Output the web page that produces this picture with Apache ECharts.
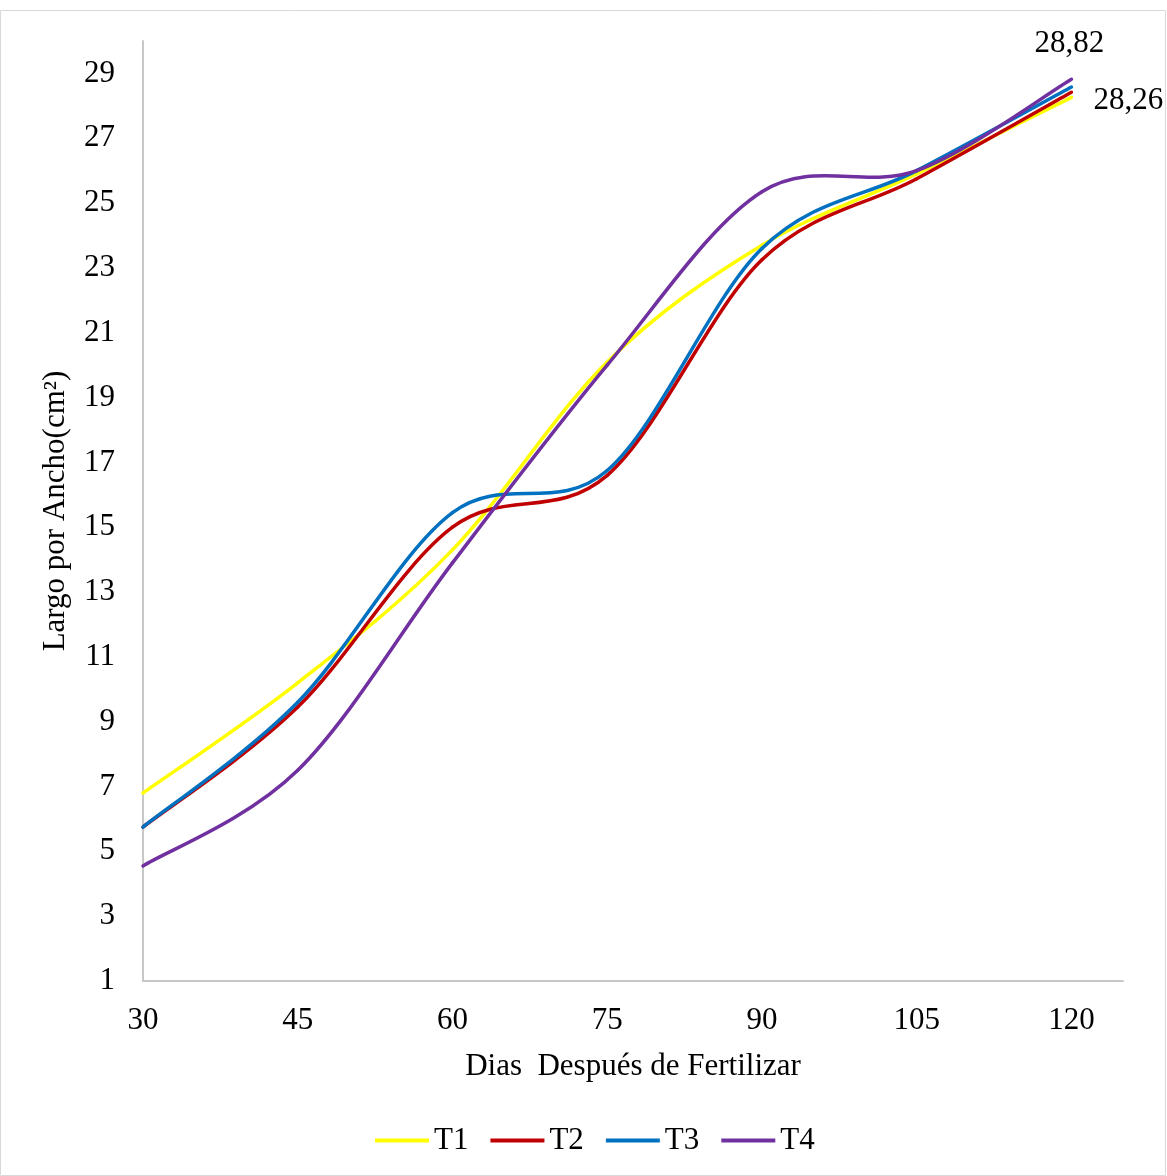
<!DOCTYPE html>
<html>
<head>
<meta charset="utf-8">
<script src="https://cdn.jsdelivr.net/npm/echarts@6/dist/echarts.min.js"></script>
<style>
  html, body { margin: 0; padding: 0; background: #fff; }
  #chart { width: 1167px; height: 1176px; }
</style>
</head>
<body>
<div id="chart"></div>
<script>
// días después de fertilizar
const dias = [30, 45, 60, 75, 90, 105, 120];
const t1 = [6.8, 10.2, 14.3, 20.1, 23.7, 25.9, 28.26];
const t2 = [5.75, 9.45, 15.0, 16.6, 23.25, 25.75, 28.42];
const t3 = [5.75, 9.6, 15.45, 16.75, 23.6, 26.0, 28.58];
const t4 = [4.55, 7.5, 13.9, 20.0, 25.35, 26.0, 28.82];

const fuente = 'Liberation Serif, Times New Roman, serif';
const tam = 31;

// curva suavizada tipo Excel (Catmull-Rom) dibujada tramo a tramo sobre los ejes
function serie(nombre, color, vals, etiqueta) {
  const n = vals.length;
  return {
    name: nombre,
    type: 'custom',
    itemStyle: { color: color },
    data: vals.map(function (v, i) { return [dias[i], v]; }),
    renderItem: function (params, api) {
      const i = params.dataIndex;
      const pt = function (j) {
        j = Math.max(0, Math.min(n - 1, j));
        return api.coord([dias[j], vals[j]]);
      };
      const hijos = [];
      if (i < n - 1) {
        const p0 = pt(i - 1), p1 = pt(i), p2 = pt(i + 1), p3 = pt(i + 2);
        hijos.push({
          type: 'bezierCurve',
          shape: {
            x1: p1[0], y1: p1[1],
            x2: p2[0], y2: p2[1],
            cpx1: p1[0] + (p2[0] - p0[0]) / 6, cpy1: p1[1] + (p2[1] - p0[1]) / 6,
            cpx2: p2[0] - (p3[0] - p1[0]) / 6, cpy2: p2[1] - (p3[1] - p1[1]) / 6
          },
          style: { fill: null, stroke: color, lineWidth: 3.5, lineCap: 'round' }
        });
      } else if (etiqueta) {
        const p = pt(i);
        const texto = vals[i].toFixed(2).replace('.', ',');
        hijos.push({
          type: 'text',
          x: p[0] + etiqueta.dx,
          y: p[1] + etiqueta.dy,
          style: {
            text: texto,
            fill: '#000',
            font: tam + 'px ' + fuente,
            align: etiqueta.align,
            verticalAlign: etiqueta.valign
          }
        });
      }
      return { type: 'group', children: hijos };
    }
  };
}

const chart = echarts.init(document.getElementById('chart'));
chart.setOption({
  animation: false,
  backgroundColor: '#fff',
  graphic: [{
    type: 'rect',
    shape: { x: 0.5, y: 10.5, width: 1165, height: 1165 },
    style: { fill: 'none', stroke: '#d9d9d9', lineWidth: 1 },
    z: -1
  }],
  grid: { left: 143, right: 44, top: 41, bottom: 195 },
  legend: {
    bottom: 15,
    left: 370,
    itemWidth: 54,
    itemHeight: 4,
    itemGap: 22,
    icon: 'rect',
    textStyle: { fontFamily: fuente, fontSize: tam, color: '#000' },
    data: ['T1', 'T2', 'T3', 'T4']
  },
  xAxis: {
    type: 'value',
    min: 30,
    max: 125,
    interval: 15,
    name: 'Dias  Después de Fertilizar',
    nameLocation: 'middle',
    nameGap: 70,
    nameTextStyle: { fontFamily: fuente, fontSize: tam, color: '#000' },
    axisLine: { lineStyle: { color: '#c8c8c8', width: 2 } },
    axisTick: { show: false },
    splitLine: { show: false },
    axisLabel: { showMaxLabel: false, margin: 24, fontFamily: fuente, fontSize: tam, color: '#000' }
  },
  yAxis: {
    type: 'value',
    min: 1,
    max: 30,
    interval: 2,
    name: 'Largo por Ancho(cm²)',
    nameLocation: 'middle',
    nameGap: 72,
    nameTextStyle: { fontFamily: fuente, fontSize: tam, color: '#000' },
    axisLine: { show: true, lineStyle: { color: '#c8c8c8', width: 2 } },
    axisTick: { show: false },
    splitLine: { show: false },
    axisLabel: { showMaxLabel: false, margin: 28, fontFamily: fuente, fontSize: tam, color: '#000' }
  },
  series: [
    serie('T1', '#FFFF00', t1, { dx: 22, dy: 3, align: 'left', valign: 'middle' }),
    serie('T2', '#C00000', t2),
    serie('T3', '#0070C0', t3),
    serie('T4', '#7030A0', t4, { dx: -2, dy: -20, align: 'center', valign: 'bottom' })
  ]
});
</script>
</body>
</html>
